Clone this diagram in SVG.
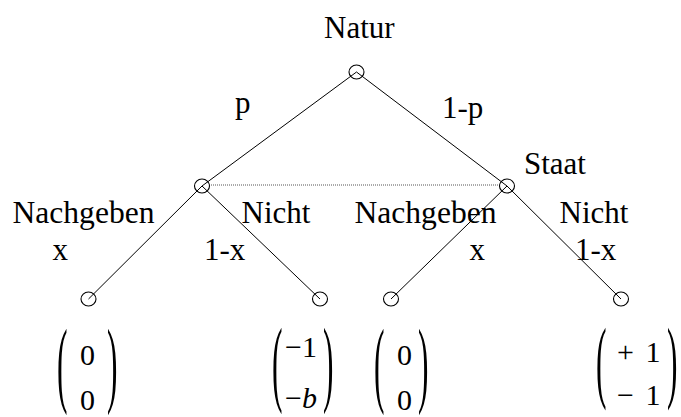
<svg xmlns="http://www.w3.org/2000/svg" width="681" height="417" viewBox="0 0 681 417">
<style>
.t{font-family:"Liberation Serif","Times New Roman",serif;font-size:31px;fill:#000}
.v{font-family:"Liberation Serif","Times New Roman",serif;font-size:30px;fill:#000}
.n{fill:none;stroke:#000;stroke-width:1.1}
.e{stroke:#000;stroke-width:1;fill:none}
.d{stroke:#555;stroke-width:1;stroke-dasharray:1 1;fill:none}
</style>
<rect width="681" height="417" fill="#fff"/>
<g id="connectors">
<line class="e" x1="356.5" y1="72" x2="202" y2="186"/>
<line class="e" x1="356.5" y1="72" x2="507" y2="186"/>
<line class="e" x1="202" y1="186" x2="88.5" y2="299"/>
<line class="e" x1="202" y1="186" x2="320" y2="299"/>
<line class="e" x1="507" y1="186" x2="391" y2="299"/>
<line class="e" x1="507" y1="186" x2="621" y2="299"/>
<line class="d" x1="209" y1="185" x2="500" y2="185"/>
</g>
<g id="labels">
<text class="t" x="235" y="113">p</text>
<text class="t" x="442" y="118">1-p</text>
<text class="t" x="12.5" y="223" textLength="142" lengthAdjust="spacingAndGlyphs">Nachgeben</text>
<text class="t" x="52.5" y="260">x</text>
<text class="t" x="241.5" y="223">Nicht</text>
<text class="t" x="204" y="260">1-x</text>
<text class="t" x="354.5" y="223" textLength="142" lengthAdjust="spacingAndGlyphs">Nachgeben</text>
<text class="t" x="469.5" y="260">x</text>
<text class="t" x="559.5" y="223">Nicht</text>
<text class="t" x="575" y="260">1-x</text>
</g>
<g id="natur">
<ellipse class="n" cx="356.5" cy="72" rx="7.5" ry="7"/>
<text class="t" x="324" y="38">Natur</text>
</g>
<g id="spieler-links">
<ellipse class="n" cx="202" cy="186" rx="7.5" ry="7"/>
</g>
<g id="staat">
<ellipse class="n" cx="507" cy="186" rx="7.5" ry="7"/>
<text class="t" x="524" y="174">Staat</text>
</g>
<g id="leaf1">
<ellipse class="n" cx="88.5" cy="299" rx="7.5" ry="7"/>
<text class="v" transform="translate(57,395) scale(1.05,3.2)">(</text>
<text class="v" transform="translate(107,395) scale(1.05,3.2)">)</text>
<text class="v" x="87.5" y="365" text-anchor="middle">0</text>
<text class="v" x="87.5" y="410" text-anchor="middle">0</text>
</g>
<g id="leaf2">
<ellipse class="n" cx="320" cy="299" rx="7.5" ry="7"/>
<text class="v" transform="translate(272,394) scale(1.05,3.2)">(</text>
<text class="v" transform="translate(323,394) scale(1.05,3.2)">)</text>
<text class="v" x="285" y="357">−1</text>
<text class="v" x="285" y="408">−<tspan font-style="italic">b</tspan></text>
</g>
<g id="leaf3">
<ellipse class="n" cx="391" cy="299" rx="7.5" ry="7"/>
<text class="v" transform="translate(374,395) scale(1.05,3.2)">(</text>
<text class="v" transform="translate(418,395) scale(1.05,3.2)">)</text>
<text class="v" x="404.5" y="365" text-anchor="middle">0</text>
<text class="v" x="404.5" y="410" text-anchor="middle">0</text>
</g>
<g id="leaf4">
<ellipse class="n" cx="621" cy="299" rx="7.5" ry="7"/>
<text class="v" transform="translate(596,391) scale(1.05,3.0)">(</text>
<text class="v" transform="translate(667,391) scale(1.05,3.0)">)</text>
<text class="v" x="617" y="362" word-spacing="4">+ 1</text>
<text class="v" x="617" y="405" word-spacing="4">− 1</text>
</g>
</svg>
